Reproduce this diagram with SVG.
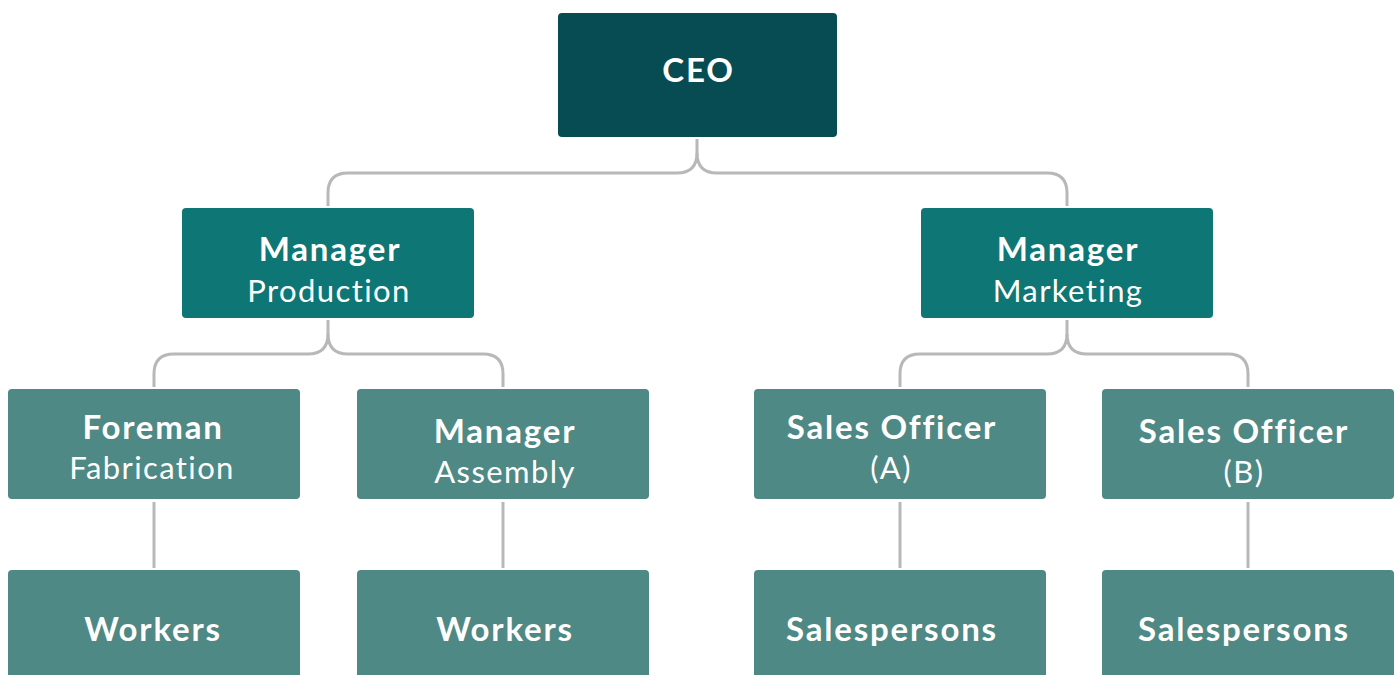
<svg xmlns="http://www.w3.org/2000/svg" width="1398" height="675" viewBox="0 0 1398 675">
<style>
.c{fill:none;stroke:#b8b8b8;stroke-width:3}
.t{font-family:Lato,"Open Sans",sans-serif;fill:#fff;text-anchor:middle}
.b{font-weight:700;font-size:33px;letter-spacing:1.8px}
.r{font-weight:400;font-size:31px;letter-spacing:1.4px}
.l0{fill:#074c52}.l1{fill:#0e7674}.l2{fill:#4e8985}
</style>
<rect width="1398" height="675" fill="#fff"/>
<g id="connectors">
<path class="c" d="M697,139 V153 Q697,173 677,173 H348 Q328,173 328,193 V206"/>
<path class="c" d="M697,153 Q697,173 717,173 H1047 Q1067,173 1067,193 V206"/>
<path class="c" d="M328,320 V334 Q328,354 308,354 H174 Q154,354 154,374 V387"/>
<path class="c" d="M328,334 Q328,354 348,354 H483 Q503,354 503,374 V387"/>
<path class="c" d="M1067,320 V334 Q1067,354 1047,354 H920 Q900,354 900,374 V387"/>
<path class="c" d="M1067,334 Q1067,354 1087,354 H1228 Q1248,354 1248,374 V387"/>
<path class="c" d="M154,502 V568"/>
<path class="c" d="M503,502 V568"/>
<path class="c" d="M900,502 V568"/>
<path class="c" d="M1248,502 V568"/>
</g>
<g id="ceo"><rect class="l0" x="558" y="13" width="279" height="124" rx="4"/><text class="t b" x="698.5" y="82">CEO</text></g>
<g id="mgr-production"><rect class="l1" x="182" y="208" width="292" height="110" rx="4"/><text class="t b" x="330" y="261">Manager</text><text class="t r" x="329" y="302">Production</text></g>
<g id="mgr-marketing"><rect class="l1" x="921" y="208" width="292" height="110" rx="4"/><text class="t b" x="1068" y="261">Manager</text><text class="t r" x="1068" y="302">Marketing</text></g>
<g id="foreman"><rect class="l2" x="8" y="389" width="292" height="110" rx="4"/><text class="t b" x="153" y="439">Foreman</text><text class="t r" x="152" y="479">Fabrication</text></g>
<g id="mgr-assembly"><rect class="l2" x="357" y="389" width="292" height="110" rx="4"/><text class="t b" x="505" y="443">Manager</text><text class="t r" x="505" y="483">Assembly</text></g>
<g id="sales-a"><rect class="l2" x="754" y="389" width="292" height="110" rx="4"/><text class="t b" x="892" y="439">Sales Officer</text><text class="t r" x="891" y="479">(A)</text></g>
<g id="sales-b"><rect class="l2" x="1102" y="389" width="292" height="110" rx="4"/><text class="t b" x="1244" y="443">Sales Officer</text><text class="t r" x="1244" y="483">(B)</text></g>
<g id="workers-1"><rect class="l2" x="8" y="570" width="292" height="115" rx="4"/><text class="t b" x="153" y="641">Workers</text></g>
<g id="workers-2"><rect class="l2" x="357" y="570" width="292" height="115" rx="4"/><text class="t b" x="505" y="641">Workers</text></g>
<g id="salespersons-1"><rect class="l2" x="754" y="570" width="292" height="115" rx="4"/><text class="t b" x="892" y="641">Salespersons</text></g>
<g id="salespersons-2"><rect class="l2" x="1102" y="570" width="292" height="115" rx="4"/><text class="t b" x="1244" y="641">Salespersons</text></g>
</svg>
